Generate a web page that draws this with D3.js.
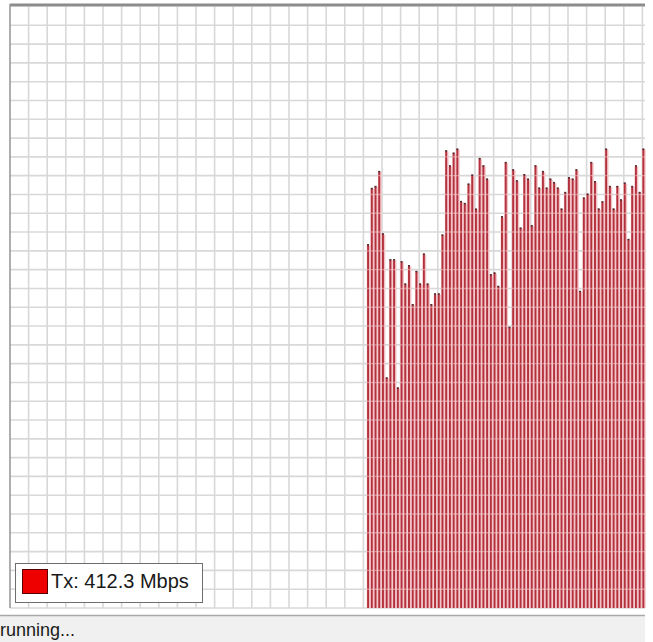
<!DOCTYPE html>
<html>
<head>
<meta charset="utf-8">
<script src="https://cdn.jsdelivr.net/npm/d3@7"></script>
<style>
  html, body { margin: 0; padding: 0; background: #fff; }
  svg { display: block; }
</style>
</head>
<body>
<div id="graphicContainer"></div>
<script>
// Tx samples in Mbps, oldest to newest
const txMbps = [
  326.5, 377.0, 378.8, 392.2, 336.1, 206.9, 313.0, 313.0, 197.9, 311.2,
  291.2, 307.6, 272.7, 302.5, 291.2, 318.1, 291.2, 272.7, 282.3, 282.3,
  335.2, 410.8, 397.3, 408.7, 412.3, 365.3, 363.5, 380.9, 389.0, 358.5,
  403.9, 397.3, 385.4, 299.6, 301.1, 289.1, 351.6, 400.3, 252.3, 393.7,
  383.9, 341.4, 389.3, 385.4, 343.5, 397.3, 377.3, 392.2, 377.3, 385.4,
  382.3, 377.3, 358.5, 373.4, 386.8, 385.4, 393.7, 284.6, 368.4, 371.9,
  400.3, 383.2, 358.5, 365.0, 412.3, 378.8, 358.5, 378.8, 366.8, 381.8,
  331.2, 378.8, 397.3, 373.4, 412.3
];
const slotCount = 170;      // sample slots across the graph
const firstSlot = 96;       // slot of the first sample
const yMaxMbps = 540;
const gridRows = 32;
const gridCols = 34;

const legendName = "Tx";
const legendValue = 412.3;
const legendUnit = "Mbps";
const statusText = "running...";

const width = 653, height = 642;
const plot = {left: 10, right: 642.4, top: 6.5, bottom: 608};
const frameRight = 645;

const svg = d3.select("#graphicContainer").append("svg")
    .attr("width", width)
    .attr("height", height);

svg.append("rect")
    .attr("width", width).attr("height", height)
    .attr("fill", "#fff");

const x = d3.scaleLinear()
    .domain([0, slotCount])
    .range([plot.left, plot.right]);

const y = d3.scaleLinear()
    .domain([0, yMaxMbps])
    .range([plot.bottom, plot.top]);

const pitch = x(1) - x(0);

// grid scales (pixel-based grid of the graph)
const gy = d3.scaleLinear().domain([0, gridRows]).range([plot.bottom, plot.top]);
const gx = d3.scaleLinear().domain([0, gridCols]).range([plot.left, plot.right]);

const grid = svg.append("g").attr("class", "grid");

grid.selectAll(".h")
    .data(d3.range(0, gridRows))
    .enter().append("line")
    .attr("x1", plot.left).attr("x2", frameRight)
    .attr("y1", d => gy(d)).attr("y2", d => gy(d))
    .attr("stroke", "#d8d8d8")
    .attr("stroke-width", 1.6);

grid.selectAll(".v")
    .data(d3.range(1, gridCols + 1))
    .enter().append("line")
    .attr("x1", d => gx(d)).attr("x2", d => gx(d))
    .attr("y1", plot.top).attr("y2", plot.bottom)
    .attr("stroke", "#d8d8d8")
    .attr("stroke-width", 1.6);

// clip so the faint grid over the bars stays inside them
svg.append("clipPath").attr("id", "barClip")
  .selectAll("rect")
    .data(txMbps)
    .enter().append("rect")
    .attr("x", (d, i) => x(firstSlot + i) - 0.4)
    .attr("width", pitch)
    .attr("y", d => y(d) + 2)
    .attr("height", d => y(0) - y(d) - 2);

// bars
const bars = svg.append("g").attr("class", "bars");

bars.selectAll(".halo")
    .data(txMbps)
    .enter().append("rect")
    .attr("x", (d, i) => x(firstSlot + i) - 0.4)
    .attr("width", pitch)
    .attr("y", d => y(d) + 1)
    .attr("height", d => y(0) - y(d) - 1)
    .attr("fill", "#f2c3c6");

bars.selectAll(".core")
    .data(txMbps)
    .enter().append("rect")
    .attr("x", (d, i) => x(firstSlot + i))
    .attr("width", 1.9)
    .attr("y", d => y(d))
    .attr("height", d => y(0) - y(d))
    .attr("fill", "#b3303c");

bars.selectAll(".cap")
    .data(txMbps)
    .enter().append("line")
    .attr("x1", (d, i) => x(firstSlot + i))
    .attr("x2", (d, i) => x(firstSlot + i) + 1.9)
    .attr("y1", d => y(d) + 0.5)
    .attr("y2", d => y(d) + 0.5)
    .attr("stroke", "#4a3033")
    .attr("stroke-width", 1.5);

// grid shows faintly through the bars
svg.append("g").attr("clip-path", "url(#barClip)")
  .selectAll("line")
    .data(d3.range(1, gridRows))
    .enter().append("line")
    .attr("x1", x(firstSlot) - 0.5).attr("x2", frameRight)
    .attr("y1", d => gy(d)).attr("y2", d => gy(d))
    .attr("stroke", "#f6d0d3")
    .attr("stroke-opacity", 0.5)
    .attr("stroke-width", 1.4);

// frame
svg.append("line")
    .attr("x1", plot.left).attr("x2", frameRight)
    .attr("y1", 5).attr("y2", 5)
    .attr("stroke", "#8c8c8c").attr("stroke-width", 3);

svg.append("line")
    .attr("x1", plot.left).attr("x2", plot.left)
    .attr("y1", 4).attr("y2", plot.bottom)
    .attr("stroke", "#9a9a9a").attr("stroke-width", 1.6);

// legend
const legend = svg.append("g").attr("transform", "translate(15,563)");

legend.append("rect")
    .attr("x", 0.5).attr("y", 0.5)
    .attr("width", 187).attr("height", 39)
    .attr("fill", "#fff")
    .attr("stroke", "#6e6e6e");

legend.append("rect")
    .attr("x", 7.5).attr("y", 6.5)
    .attr("width", 25).attr("height", 24)
    .attr("fill", "#ee0000")
    .attr("stroke", "#5a0000");

legend.append("text")
    .attr("x", 36).attr("y", 25)
    .attr("font-family", "'Liberation Sans', Arial, sans-serif")
    .attr("font-size", 20)
    .attr("fill", "#1a1a1a")
    .text(legendName + ": " + legendValue.toFixed(1) + " " + legendUnit);

// status bar
svg.append("rect")
    .attr("x", 0).attr("y", 615)
    .attr("width", frameRight).attr("height", height - 615)
    .attr("fill", "#f0f0f0");

svg.append("line")
    .attr("x1", 0).attr("x2", frameRight)
    .attr("y1", 615.5).attr("y2", 615.5)
    .attr("stroke", "#a8a8a8").attr("stroke-width", 1.5);

svg.append("text")
    .attr("x", 0).attr("y", 636)
    .attr("font-family", "'Liberation Sans', Arial, sans-serif")
    .attr("font-size", 18)
    .attr("fill", "#1a1a1a")
    .text(statusText);
</script>
</body>
</html>
